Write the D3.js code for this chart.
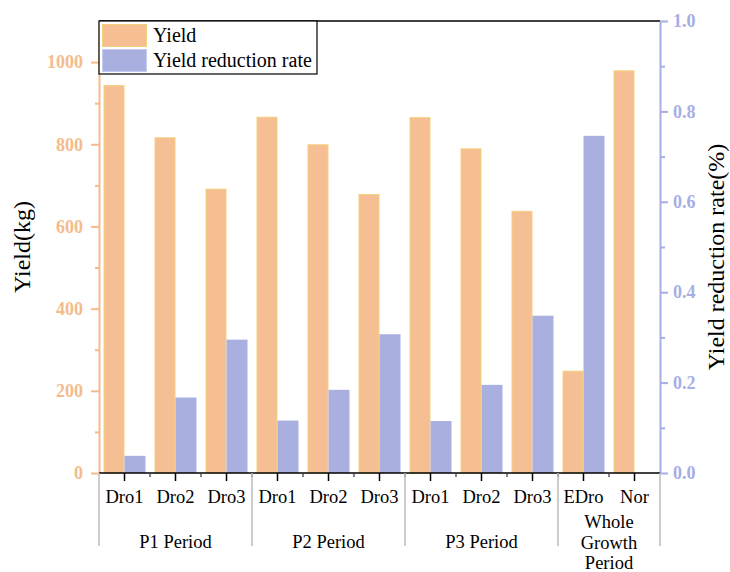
<!DOCTYPE html>
<html>
<head>
<meta charset="utf-8">
<script src="https://cdn.jsdelivr.net/npm/d3@7"></script>
<style>
  body { margin: 0; background: #fff; }
  svg { display: block; font-family: "Liberation Serif", "Times New Roman", serif; }
</style>
</head>
<body>
<div id="chart"></div>
<script>
// data
const groups = ["P1 Period", "P2 Period", "P3 Period", "Whole Growth Period"];
const categories = ["Dro1", "Dro2", "Dro3", "Dro1", "Dro2", "Dro3", "Dro1", "Dro2", "Dro3", "EDro", "Nor"];
const categoryGroup = [0, 0, 0, 1, 1, 1, 2, 2, 2, 3, 3];
const yieldKg = [944, 817, 692, 867, 800, 679, 866, 790, 638, 249, 980];
const reductionRate = [0.038, 0.167, 0.295, 0.116, 0.184, 0.307, 0.115, 0.195, 0.348, 0.746, null];
const leftTicks = [0, 200, 400, 600, 800, 1000];
const rightTicks = [0, 0.2, 0.4, 0.6, 0.8, 1.0];
const seriesNames = ["Yield", "Yield reduction rate"];

const W = 730, H = 572;
const m = {left: 99, right: 70, top: 21, bottom: 99};
const orange = "#f6bf93", orangeStroke = "#f3d27c", blue = "#a9b0e0";
const orangeAxis = "#f5bb8c", blueAxis = "#a6aee4";

const svg = d3.select("#chart").append("svg").attr("width", W).attr("height", H);

const x = d3.scaleBand().domain(d3.range(categories.length)).range([m.left, W - m.right]);
const xs = d3.scaleBand().domain([0, 1]).range([0, x.bandwidth()]).paddingOuter(0.214);
const yL = d3.scaleLinear().domain([0, 1100]).range([H - m.bottom, m.top]);
const yR = d3.scaleLinear().domain([0, 1.0]).range([H - m.bottom, m.top]);
const y0 = H - m.bottom;

// bars
svg.append("g").selectAll("rect")
  .data(yieldKg)
  .enter().append("rect")
  .attr("x", (d, i) => x(i) + xs(0) + 0.5)
  .attr("width", xs.bandwidth() - 1)
  .attr("y", d => yL(d) + 0.5)
  .attr("height", d => y0 - yL(d) - 0.5)
  .attr("fill", orange)
  .attr("stroke", orangeStroke)
  .attr("stroke-width", 1);

svg.append("g").selectAll("rect")
  .data(reductionRate.map((v, i) => ({v, i})).filter(d => d.v != null))
  .enter().append("rect")
  .attr("x", d => x(d.i) + xs(1))
  .attr("width", xs.bandwidth())
  .attr("y", d => yR(d.v))
  .attr("height", d => y0 - yR(d.v))
  .attr("fill", blue);

// top frame
svg.append("line")
  .attr("x1", m.left).attr("x2", W - m.right)
  .attr("y1", m.top).attr("y2", m.top)
  .attr("stroke", "#000").attr("stroke-width", 1.5);

// left axis
const gL = svg.append("g").attr("transform", `translate(${m.left},0)`);
gL.call(d3.axisLeft(yL).tickValues(leftTicks).tickSize(8).tickSizeOuter(0).tickPadding(8)
  .tickFormat(d3.format("d")));
gL.append("g").call(d3.axisLeft(yL).tickValues(d3.range(100, 1100, 200)).tickSize(4).tickFormat(""))
  .select(".domain").remove();
gL.selectAll("path, line").attr("stroke", orangeAxis).attr("stroke-width", 2);
gL.selectAll("text").attr("fill", orangeAxis).attr("font-size", 18).attr("font-weight", "bold")
  .attr("font-family", "Liberation Serif");

// right axis
const gR = svg.append("g").attr("transform", `translate(${W - m.right},0)`);
gR.call(d3.axisRight(yR).tickValues(rightTicks).tickSize(8).tickSizeOuter(0).tickPadding(5)
  .tickFormat(d3.format(".1f")));
gR.append("g").call(d3.axisRight(yR).tickValues(d3.range(0.1, 1.0, 0.2)).tickSize(5).tickFormat(""))
  .select(".domain").remove();
gR.selectAll("path, line").attr("stroke", blueAxis).attr("stroke-width", 2);
gR.selectAll("text").attr("fill", blueAxis).attr("font-size", 18).attr("font-weight", "bold")
  .attr("font-family", "Liberation Serif");

// bottom axis
const gB = svg.append("g").attr("transform", `translate(0,${y0})`);
gB.append("line").attr("x1", m.left).attr("x2", W - m.right)
  .attr("stroke", "#000").attr("stroke-width", 1.5);
gB.selectAll(".ctick").data(d3.range(categories.length)).enter().append("line")
  .attr("x1", i => x(i) + x.bandwidth() / 2).attr("x2", i => x(i) + x.bandwidth() / 2)
  .attr("y1", 0).attr("y2", 8).attr("stroke", "#000").attr("stroke-width", 1.5);
gB.selectAll(".btick").data(d3.range(1, categories.length)).enter().append("line")
  .attr("x1", i => x(i)).attr("x2", i => x(i))
  .attr("y1", 0).attr("y2", 4).attr("stroke", "#333").attr("stroke-width", 1.2);
gB.selectAll(".clabel").data(categories).enter().append("text")
  .attr("x", (d, i) => x(i) + x.bandwidth() / 2)
  .attr("y", 30)
  .attr("text-anchor", "middle")
  .attr("font-size", 18.5)
  .text(d => d);

// group separators and labels
const groupStart = groups.map((g, k) => categoryGroup.indexOf(k));
const groupEnd = groups.map((g, k) => categoryGroup.lastIndexOf(k));
const seps = groupStart.map(i => x(i)).concat([x(categories.length - 1) + x.bandwidth()]);
gB.selectAll(".sep").data(seps).enter().append("line")
  .attr("x1", d => d).attr("x2", d => d)
  .attr("y1", 0).attr("y2", 73)
  .attr("stroke", "#bdbdbd").attr("stroke-width", 1.5);

groups.forEach((g, k) => {
  const cx = (x(groupStart[k]) + x(groupEnd[k]) + x.bandwidth()) / 2;
  const words = k === 3 ? g.split(" ") : [g];
  const t = gB.append("text").attr("text-anchor", "middle").attr("font-size", 18.5);
  words.forEach((w, j) => {
    t.append("tspan").attr("x", cx)
      .attr("y", (k === 3 ? 55 : 75) + j * 20.5)
      .text(w);
  });
});

// axis titles
svg.append("text")
  .attr("transform", `translate(30,${(m.top + y0) / 2}) rotate(-90)`)
  .attr("text-anchor", "middle").attr("font-size", 24)
  .text("Yield(kg)");
svg.append("text")
  .attr("transform", `translate(724,${(m.top + y0) / 2 + 10}) rotate(-90)`)
  .attr("text-anchor", "middle").attr("font-size", 24)
  .text("Yield reduction rate(%)");

// legend
const lg = svg.append("g").attr("transform", `translate(${m.left},${m.top})`);
lg.append("rect").attr("x", 0).attr("y", 0).attr("width", 218).attr("height", 53)
  .attr("fill", "#fff").attr("stroke", "#000").attr("stroke-width", 1.2);
[orange, blue].forEach((c, j) => {
  lg.append("rect").attr("x", 3.5).attr("y", 3.5 + j * 25).attr("width", 44).attr("height", 22)
    .attr("fill", c).attr("stroke", j === 0 ? orangeStroke : "#c5cbef").attr("stroke-width", 1);
  lg.append("text").attr("x", 54).attr("y", 21 + j * 25).attr("font-size", 20)
    .text(seriesNames[j]);
});
</script>
</body>
</html>
